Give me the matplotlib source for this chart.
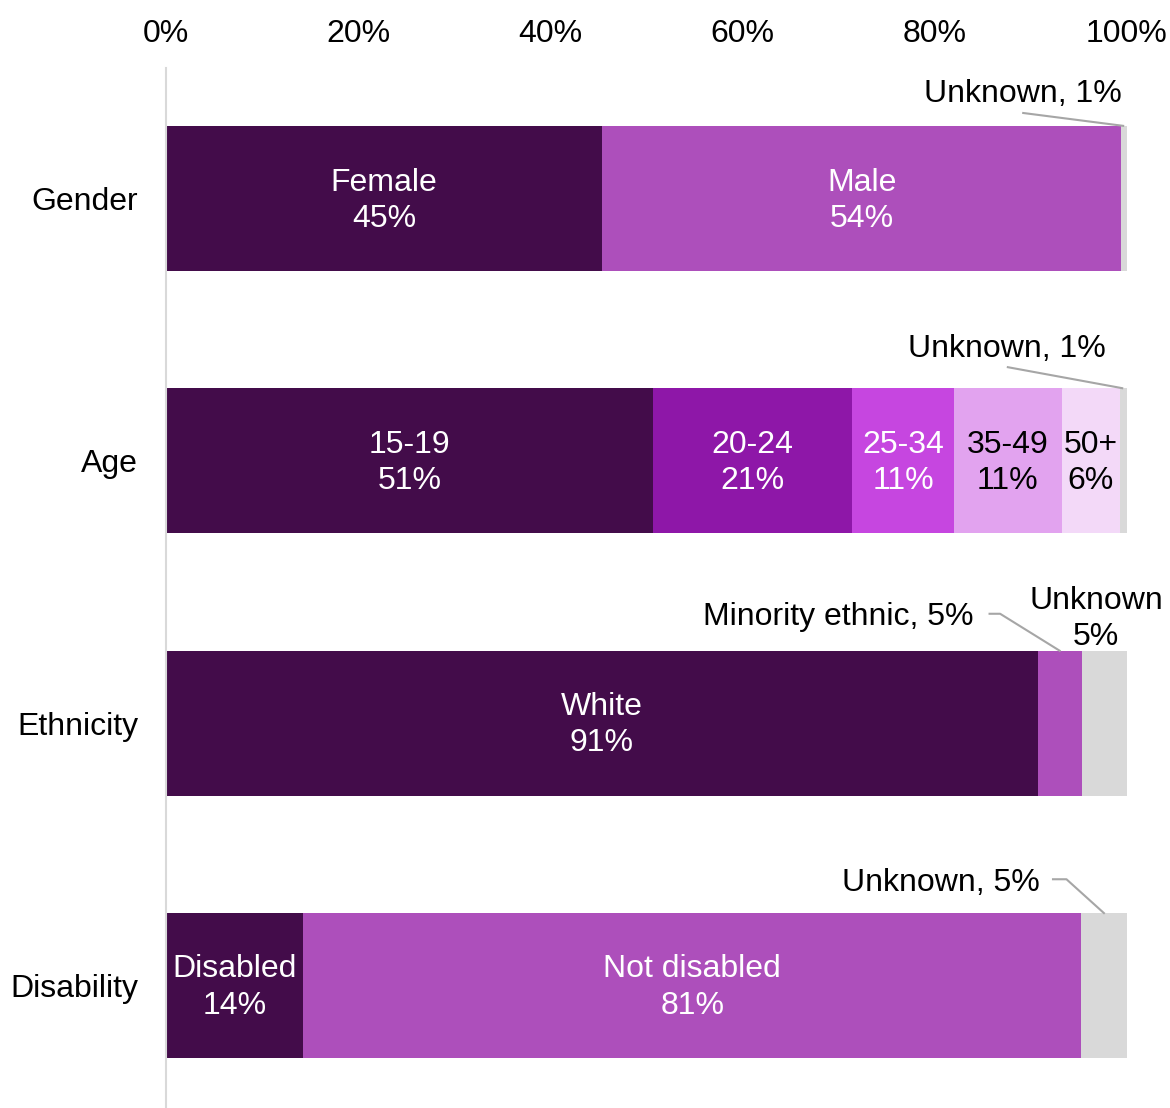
import matplotlib
matplotlib.use("Agg")
import matplotlib.pyplot as plt
from matplotlib.ticker import PercentFormatter

plt.rcParams['font.family'] = ['Liberation Sans', 'DejaVu Sans']

categories = ["Gender", "Age", "Ethnicity", "Disability"]

# Segment values (%) per category, in drawing order
gender_labels = ["Female", "Male", "Unknown"]
gender_values = [45.4, 54.0, 0.6]
age_labels = ["15-19", "20-24", "25-34", "35-49", "50+", "Unknown"]
age_values = [50.7, 20.7, 10.6, 11.2, 6.1, 0.7]
ethnicity_labels = ["White", "Minority ethnic", "Unknown"]
ethnicity_values = [90.7, 4.6, 4.7]
disability_labels = ["Disabled", "Not disabled", "Unknown"]
disability_values = [14.3, 80.9, 4.8]

# displayed percentages
gender_pct = ["45%", "54%", "1%"]
age_pct = ["51%", "21%", "11%", "11%", "6%", "1%"]
ethnicity_pct = ["91%", "5%", "5%"]
disability_pct = ["14%", "81%", "5%"]

DARK = "#430C4A"
MID = "#AD4FBB"
GREY = "#D9D9D9"
gender_colors = [DARK, MID, GREY]
age_colors = [DARK, "#8E17A8", "#C646E0", "#E2A3EF", "#F3D9F8", GREY]
ethnicity_colors = [DARK, MID, GREY]
disability_colors = [DARK, MID, GREY]

rows = [
    (gender_labels, gender_values, gender_pct, gender_colors),
    (age_labels, age_values, age_pct, age_colors),
    (ethnicity_labels, ethnicity_values, ethnicity_pct, ethnicity_colors),
    (disability_labels, disability_values, disability_pct, disability_colors),
]

FS = 23
LS = 1.27
fig = plt.figure(figsize=(11.70, 11.08), dpi=100)
ax = fig.add_axes([166/1170, 0.0, (1127-166)/1170, 1 - 68/1108])

bar_h = 0.553
for i, (labs, vals, pcts, cols) in enumerate(rows):
    left = 0.0
    for lab, v, p, c in zip(labs, vals, pcts, cols):
        ax.barh(i, v, left=left, height=bar_h, color=c, edgecolor='none')
        inside = lab != "Unknown" and not (categories[i] == "Ethnicity" and lab == "Minority ethnic")
        if inside:
            tc = "black" if c in ("#E2A3EF", "#F3D9F8") else "white"
            ax.text(left + v/2, i + 0.008, f"{lab}\n{p}", ha='center', va='center',
                    color=tc, fontsize=FS, linespacing=LS)
        left += v

lc = "#A6A6A6"
# Gender unknown callout
ax.text(89.2, -0.399, "Unknown, 1%", ha='center', va='center', fontsize=FS)
ax.plot([89.2, 99.6], [-0.326, -0.277], color=lc, lw=1.5, clip_on=False)
# Age unknown callout
ax.text(87.5, 0.5745, "Unknown, 1%", ha='center', va='center', fontsize=FS)
ax.plot([87.6, 99.5], [0.643, 0.723], color=lc, lw=1.5, clip_on=False)
# Ethnicity callouts
ax.text(84.0, 1.597, "Minority ethnic, 5%", ha='right', va='center', fontsize=FS)
ax.plot([85.7, 86.8, 93.0], [1.583, 1.583, 1.724], color=lc, lw=1.5, clip_on=False)
ax.text(96.8, 1.604, "Unknown\n5%", ha='center', va='center', fontsize=FS, linespacing=LS)
# Disability unknown callout
ax.text(90.9, 2.609, "Unknown, 5%", ha='right', va='center', fontsize=FS)
ax.plot([92.3, 93.7, 97.6], [2.595, 2.595, 2.724], color=lc, lw=1.5, clip_on=False)

ax.set_xlim(0, 100)
ax.set_ylim(3.467, -0.4975)
ax.set_yticks(range(len(categories)))
ax.set_yticklabels(categories, fontsize=FS)
ax.set_xticks([0, 20, 40, 60, 80, 100])
ax.xaxis.set_major_formatter(PercentFormatter(decimals=0))
ax.xaxis.tick_top()
ax.tick_params(axis='x', length=0, pad=14, labelsize=FS)
ax.tick_params(axis='y', length=0, pad=20, labelsize=FS)
for s in ['top', 'right', 'bottom']:
    ax.spines[s].set_visible(False)
ax.spines['left'].set_color('#D9D9D9')
ax.spines['left'].set_linewidth(1.5)

fig.savefig("out.png", dpi=100)
